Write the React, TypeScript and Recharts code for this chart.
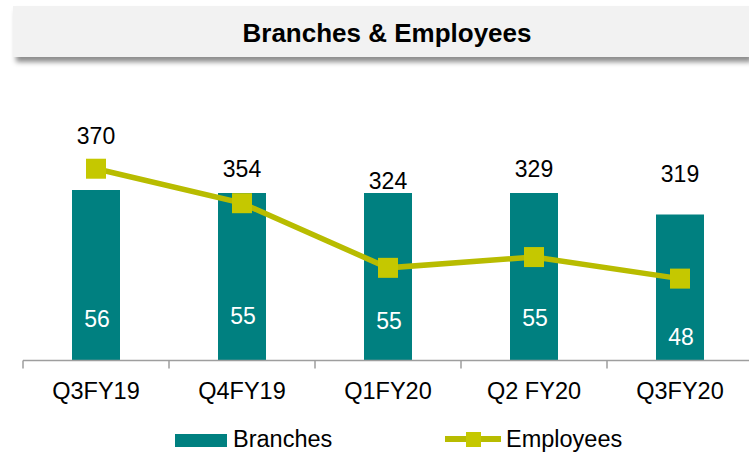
import React from "react";
import { ComposedChart, Bar, Line, XAxis, YAxis, LabelList } from "recharts";

const categories = ["Q3FY19", "Q4FY19", "Q1FY20", "Q2 FY20", "Q3FY20"];
const branches = [56, 55, 55, 55, 48];
const employees = [370, 354, 324, 329, 319];

const data = categories.map((c, i) => ({ name: c, branches: branches[i], employees: employees[i] }));

// label placement offsets (styling, relative to each mark)
const LINE_LABEL_DY = [-25, -26, -79, -80, -97];
const BAR_LABEL_DY = [-34, -36.5, -31.5, -34.5, -15.5];

const FONT = "'Liberation Sans', Arial, sans-serif";
const TEAL = "#008080";
const LINE_COLOR = "#B8BC00";
const MARKER_COLOR = "#C5C800";
const AXIS_COLOR = "#9E9E9E";

const Tick = (props: any) => {
  const { x, y, payload } = props;
  const half = payload && typeof payload.offset === "number" && payload.offset > 0 ? payload.offset : 73;
  return (
    <g>
      <line x1={x - half} x2={x - half} y1={y - 8} y2={y} stroke={AXIS_COLOR} strokeWidth={1.5} />
      <text x={x} y={y + 30} textAnchor="middle" fontSize={23.5} fill="#000" fontFamily={FONT}>
        {payload.value}
      </text>
    </g>
  );
};

const SquareDot = (props: any) => {
  const { cx, cy } = props;
  if (cx == null || cy == null) return null;
  return <rect x={cx - 10} y={cy - 10} width={20} height={20} fill={MARKER_COLOR} />;
};

const LineLabel = (props: any) => {
  const { x, y, value, index } = props;
  return (
    <text x={x} y={y + LINE_LABEL_DY[index]} textAnchor="middle" fontSize={23} fill="#000" fontFamily={FONT}>
      {value}
    </text>
  );
};

const BarLabel = (props: any) => {
  const { x, y, width, height, value, index } = props;
  return (
    <text
      x={x + width / 2 + 1}
      y={y + height + BAR_LABEL_DY[index]}
      textAnchor="middle"
      fontSize={23}
      fill="#FFFFFF"
      fontFamily={FONT}
    >
      {value}
    </text>
  );
};

export default function App() {
  return (
    <div
      style={{
        position: "absolute",
        left: 0,
        top: 0,
        width: 749,
        height: 452,
        overflow: "hidden",
        background: "#FFFFFF",
        fontFamily: FONT,
      }}
    >
      <div style={{ position: "absolute", left: 0, top: 0 }}>
        <ComposedChart
          width={753}
          height={452}
          data={data}
          margin={{ top: 117, right: 0, bottom: 51.5, left: 23 }}
        >
          <XAxis
            dataKey="name"
            height={40}
            axisLine={{ stroke: AXIS_COLOR, strokeWidth: 1.5 }}
            tickLine={false}
            tickSize={8}
            tickMargin={0}
            tick={<Tick />}
            interval={0}
          />
          <YAxis yAxisId="b" hide domain={[0, 80]} allowDataOverflow />
          <YAxis yAxisId="e" hide orientation="right" domain={[281, 394]} allowDataOverflow />
          <Bar yAxisId="b" dataKey="branches" fill={TEAL} barSize={48} isAnimationActive={false}>
            <LabelList dataKey="branches" content={<BarLabel />} />
          </Bar>
          <Line
            yAxisId="e"
            dataKey="employees"
            stroke={LINE_COLOR}
            strokeWidth={5.5}
            dot={<SquareDot />}
            activeDot={false}
            isAnimationActive={false}
          >
            <LabelList dataKey="employees" content={<LineLabel />} />
          </Line>
        </ComposedChart>
      </div>

      {/* Title banner */}
      <div
        style={{
          position: "absolute",
          left: 13,
          top: 6,
          width: 736,
          height: 51,
          background: "#F2F2F2",
          boxShadow: "3px 5px 5px rgba(0,0,0,0.45)",
        }}
      />
      <div
        style={{
          position: "absolute",
          left: 13,
          top: 8,
          width: 736,
          paddingLeft: 12,
          boxSizing: "border-box",
          height: 51,
          lineHeight: "51px",
          textAlign: "center",
          fontSize: 26,
          fontWeight: "bold",
          color: "#000",
        }}
      >
        Branches &amp; Employees
      </div>

      {/* Legend */}
      <div style={{ position: "absolute", left: 175, top: 434, width: 52, height: 13, background: TEAL }} />
      <div style={{ position: "absolute", left: 233, top: 428, fontSize: 23.5, lineHeight: "23px", color: "#000", whiteSpace: "nowrap" }}>
        Branches
      </div>
      <div style={{ position: "absolute", left: 445, top: 436, width: 56, height: 6, background: LINE_COLOR }} />
      <div style={{ position: "absolute", left: 466, top: 432, width: 15, height: 15, background: MARKER_COLOR }} />
      <div style={{ position: "absolute", left: 506, top: 428, fontSize: 23.5, lineHeight: "23px", color: "#000", whiteSpace: "nowrap" }}>
        Employees
      </div>
    </div>
  );
}
